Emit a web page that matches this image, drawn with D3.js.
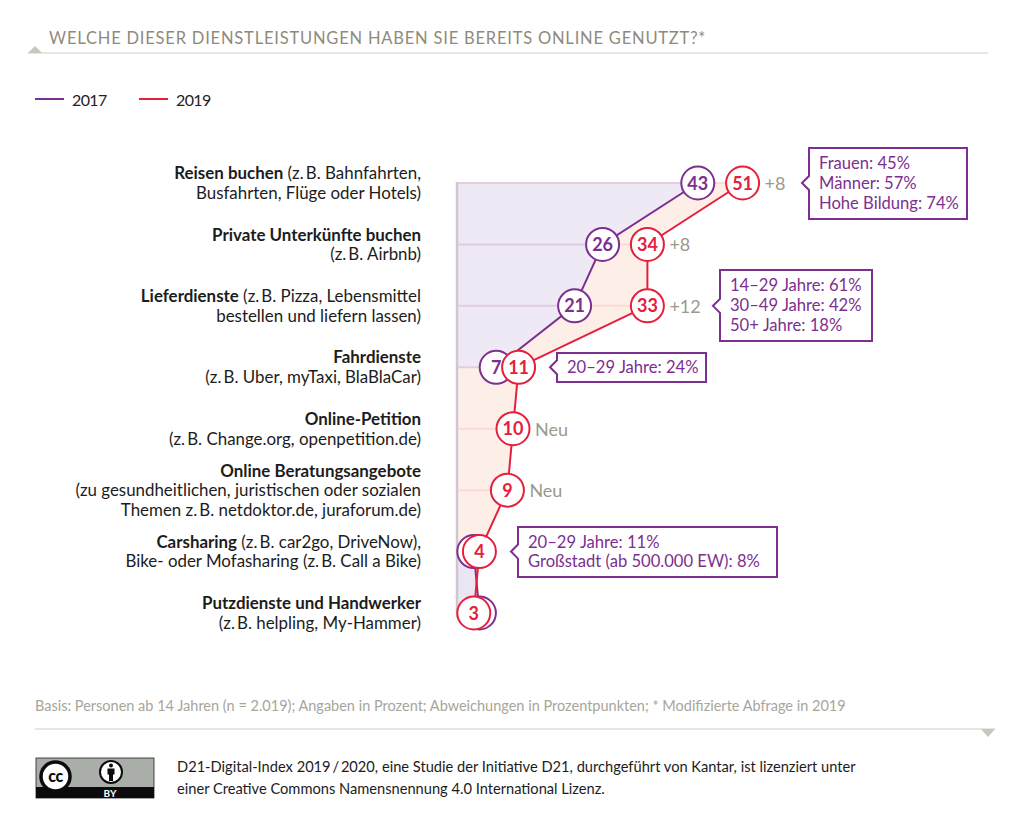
<!DOCTYPE html>
<html><head><meta charset="utf-8">
<script src="https://cdn.jsdelivr.net/npm/d3@7"></script>
<style>
html,body{margin:0;padding:0;background:#fff}
svg{display:block}
text{font-family:Lato,"Open Sans",sans-serif}
</style></head><body>
<svg id="c" width="1024" height="827"></svg>
<script>
const categories=["Reisen buchen","Private Unterkünfte buchen","Lieferdienste","Fahrdienste","Online-Petition","Online Beratungsangebote","Carsharing","Putzdienste und Handwerker"];
const rowLabels=[
 [[["Reisen buchen",1],[" (z.\u2009B. Bahnfahrten,",0]],[["Busfahrten, Flüge oder Hotels)",0]]],
 [[["Private Unterkünfte buchen",1]],[["(z.\u2009B. Airbnb)",0]]],
 [[["Lieferdienste",1],[" (z.\u2009B. Pizza, Lebensmittel",0]],[["bestellen und liefern lassen)",0]]],
 [[["Fahrdienste",1]],[["(z.\u2009B. Uber, myTaxi, BlaBlaCar)",0]]],
 [[["Online-Petition",1]],[["(z.\u2009B. Change.org, openpetition.de)",0]]],
 [[["Online Beratungsangebote",1]],[["(zu gesundheitlichen, juristischen oder sozialen",0]],[["Themen z.\u2009B. netdoktor.de, juraforum.de)",0]]],
 [[["Carsharing",1],[" (z.\u2009B. car2go, DriveNow),",0]],[["Bike- oder Mofasharing (z.\u2009B. Call a Bike)",0]]],
 [[["Putzdienste und Handwerker",1]],[["(z.\u2009B. helpling, My-Hammer)",0]]]
];
const values2017=[43,26,21,7,null,null,3,4];
const labels2017=["43","26","21","7",null,null,null,null];
const values2019=[51,34,33,11,10,9,4,3];
// the reference places the circle labelled 33 at the same horizontal spot as 34
const plotted2019=[51,34,34,11,10,9,4,3];
const deltas=["+8","+8","+12",null,"Neu","Neu",null,null];
const notes=[
 {row:0,box:[809,148,967,219],lines:["Frauen: 45%","Männer: 57%","Hohe Bildung: 74%"]},
 {row:2,box:[720,270,872,341],lines:["14–29 Jahre: 61%","30–49 Jahre: 42%","50+ Jahre: 18%"]},
 {row:3,box:[557,353,706,382],lines:["20–29 Jahre: 24%"]},
 {row:6,box:[518,527,777,577],lines:["20–29 Jahre: 11%","Großstadt (ab 500.000 EW): 8%"]}
];
const PURPLE="#7c2f8e",RED="#e5203c",GREY="#9b988e";

const svg=d3.select("#c");
const x=d3.scaleLinear().domain([0,51]).range([457,742.6]);
const y=d3.scalePoint().domain(categories).range([183,613]);
const rows=categories.map((c,i)=>({c,i,y:y(c),a:values2017[i],b:plotted2019[i]}));

// header
svg.append("text").attr("x",49).attr("y",43.5).attr("font-size",16.5).attr("letter-spacing",0.8).attr("fill","#8f8a7c")
 .text("WELCHE DIESER DIENSTLEISTUNGEN HABEN SIE BEREITS ONLINE GENUTZT?*");
svg.append("line").attr("x1",28).attr("x2",988).attr("y1",53).attr("y2",53).attr("stroke","#dedcd8").attr("stroke-width",1.5);
svg.append("path").attr("d","M28,53L35,46L42,53Z").attr("fill","#c9c6bd");

// legend
[[35,"2017",PURPLE],[139,"2019",RED]].forEach(([lx,t,col])=>{
 svg.append("line").attr("x1",lx).attr("x2",lx+29).attr("y1",99).attr("y2",99).attr("stroke",col).attr("stroke-width",2);
 svg.append("text").attr("x",lx+37).attr("y",105.5).attr("font-size",16).attr("letter-spacing",-0.6).attr("fill","#222").text(t);
});

// areas
const area=d3.area().y(d=>d.y).x0(d=>x(d.l)).x1(d=>x(d.r));
const upperRows=rows.slice(0,4);
svg.append("path").attr("fill","#efe9f5").attr("d",area(upperRows.map(d=>({y:d.y,l:0,r:d.a}))));
svg.append("path").attr("fill","#fdeee8").attr("d",area(upperRows.map(d=>({y:d.y,l:d.a,r:d.b}))));
svg.append("path").attr("fill","#fdeee8").attr("d",area(rows.slice(3,7).map(d=>({y:d.y,l:0,r:d.b}))));
svg.append("path").attr("fill","#e9e5f2").attr("d",area(rows.slice(6,8).map(d=>({y:d.y,l:0,r:d.b}))));

// gridlines
rows.forEach(d=>{
 const hasA=d.a!=null&&d.i<4;
 if(hasA){
  svg.append("line").attr("x1",x(0)).attr("x2",x(d.a)).attr("y1",d.y).attr("y2",d.y).attr("stroke","#e0cde0").attr("stroke-width",2);
  svg.append("line").attr("x1",x(d.a)).attr("x2",x(d.b)).attr("y1",d.y).attr("y2",d.y).attr("stroke","#fadcd2").attr("stroke-width",2);
 } else {
  svg.append("line").attr("x1",x(0)).attr("x2",x(d.b)).attr("y1",d.y).attr("y2",d.y).attr("stroke","#fbd9d9").attr("stroke-width",2);
 }
});
svg.append("line").attr("x1",x(0)).attr("x2",x(0)).attr("y1",182).attr("y2",618).attr("stroke","#cfc6cf").attr("stroke-width",2.5);

// lines
const line=d3.line().x(d=>d.x).y(d=>d.y);
const seg=(arr,f,col)=>svg.append("path").attr("fill","none").attr("stroke",col).attr("stroke-width",2)
 .attr("d",line(arr.map(d=>({x:x(f(d)),y:d.y}))));
seg(rows.slice(0,4),d=>d.a,PURPLE);
seg(rows.slice(6,8),d=>d.a,PURPLE);
seg(rows,d=>d.b,RED);

// circles
function dot(cx,cy,col,label){
 svg.append("circle").attr("cx",cx).attr("cy",cy).attr("r",16.5).attr("fill","#fff").attr("stroke",col).attr("stroke-width",2);
 if(label!=null) svg.append("text").attr("x",cx).attr("y",cy+6.5).attr("text-anchor","middle").attr("font-size",18).attr("font-weight",700).attr("fill",col).text(label);
}
rows.forEach(d=>{ if(d.a!=null) dot(x(d.a),d.y,PURPLE,labels2017[d.i]); });
rows.forEach(d=>dot(x(d.b),d.y,RED,String(values2019[d.i])));

// deltas
rows.forEach(d=>{
 if(deltas[d.i]) svg.append("text").attr("x",x(d.b)+22).attr("y",d.y+7).attr("font-size",18).attr("fill",GREY).text(deltas[d.i]);
});

// row labels
rows.forEach(d=>{
 const ls=rowLabels[d.i],lh=19.6,start=d.y-(ls.length-1)*lh/2+6;
 ls.forEach((parts,k)=>{
  const t=svg.append("text").attr("x",421).attr("y",start+k*lh).attr("text-anchor","end").attr("font-size",16.9).attr("fill","#1c1c1c");
  parts.forEach(([s,b])=>t.append("tspan").attr("font-weight",b?700:400).attr("xml:space","preserve").text(s));
 });
});

// callouts
notes.forEach(n=>{
 const [a,b,c,e]=n.box,cy=y(categories[n.row]);
 svg.append("path").attr("fill","#fff").attr("stroke",PURPLE).attr("stroke-width",2)
  .attr("d",`M${a},${b}H${c}V${e}H${a}V${cy+7}L${a-7},${cy}L${a},${cy-7}Z`);
 const lh=19.6,start=(b+e)/2-(n.lines.length-1)*lh/2+5.5;
 n.lines.forEach((s,k)=>svg.append("text").attr("x",a+10).attr("y",start+k*lh).attr("font-size",16.6).attr("fill",PURPLE).text(s));
});

// footnote
svg.append("text").attr("x",35).attr("y",711).attr("font-size",14.5).attr("fill","#a8a59b")
 .text("Basis: Personen ab 14 Jahren (n = 2.019); Angaben in Prozent; Abweichungen in Prozentpunkten; * Modifizierte Abfrage in 2019");
svg.append("line").attr("x1",35).attr("x2",995).attr("y1",729).attr("y2",729).attr("stroke","#dedcd8").attr("stroke-width",1.5);
svg.append("path").attr("d","M981,729L988,737L995,729Z").attr("fill","#c9c6bd");

// CC badge
const g=svg.append("g");
g.append("rect").attr("x",36).attr("y",758).attr("width",118).attr("height",40).attr("fill","#a9aea8").attr("stroke","#222").attr("stroke-width",.8);
g.append("rect").attr("x",36).attr("y",787).attr("width",118).attr("height",11).attr("fill","#0b0b0b");
g.append("circle").attr("cx",55.5).attr("cy",776.5).attr("r",14.5).attr("fill","#fff").attr("stroke","#0b0b0b").attr("stroke-width",3.5);
g.append("text").attr("x",55.5).attr("y",781.5).attr("text-anchor","middle").attr("font-size",16).attr("font-weight",900).attr("letter-spacing",-.5).attr("fill","#0b0b0b").text("cc");
g.append("circle").attr("cx",111).attr("cy",772).attr("r",11).attr("fill","#fff").attr("stroke","#0b0b0b").attr("stroke-width",2);
g.append("circle").attr("cx",111).attr("cy",765.5).attr("r",2).attr("fill","#0b0b0b");
g.append("path").attr("d","M107.5,768.5H114.5V774.5H113V781H109V774.5H107.5Z").attr("fill","#0b0b0b");
g.append("text").attr("x",110).attr("y",796.5).attr("text-anchor","middle").attr("font-size",10).attr("font-weight",700).attr("fill","#fff").text("BY");

["D21-Digital-Index 2019\u2009/\u20092020, eine Studie der Initiative D21, durchgeführt von Kantar, ist lizenziert unter",
 "einer Creative Commons Namensnennung 4.0 International Lizenz."].forEach((s,k)=>
 svg.append("text").attr("x",177).attr("y",772+k*22).attr("font-size",14.65).attr("fill","#1c1c1c").text(s));
</script></body></html>
